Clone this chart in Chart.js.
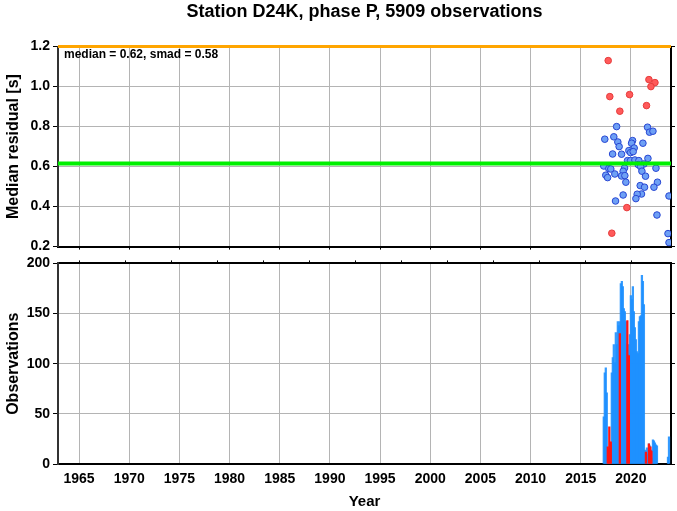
<!DOCTYPE html>
<html>
<head>
<meta charset="utf-8">
<script src="https://cdn.jsdelivr.net/npm/chart.js@4.4.1/dist/chart.umd.min.js"></script>
<style>
  body { margin: 0; background: #fff; }
  canvas { position: absolute; left: 0; }
</style>
</head>
<body>
<canvas id="resid" width="677" height="258" style="top:0px"></canvas>
<canvas id="obs" width="677" height="259" style="top:252px"></canvas>
<script>
// ---- data ----
var tickYears = [1965, 1970, 1975, 1980, 1985, 1990, 1995, 2000, 2005, 2010, 2015, 2020];
var xMin = 1962.9, xMax = 2024.0;

var medianResid = 0.615;   // green line
var limitResid = 1.2;      // orange line
var medianText = '0.62', smadText = '0.58';

// blue = accepted, red = outliers
var blueYears = [2018.58, 2021.66, 2021.86, 2022.2, 2017.4, 2018.3, 2018.7, 2018.83, 2020.17, 2020.07,
                 2021.2, 2020.33, 2019.8, 2019.97, 2020.23, 2018.18, 2019.07, 2021.7, 2019.67, 2019.97,
                 2020.4, 2020.8, 2021.3, 2020.73, 2017.3, 2019.37, 2017.8, 2018.0, 2020.97, 2022.5,
                 2019.23, 2021.1, 2018.4, 2017.5, 2019.07, 2019.4, 2017.68, 2021.46, 2022.65, 2019.5,
                 2020.93, 2021.36, 2022.3, 2021.06, 2020.63, 2019.23, 2023.8, 2020.5, 2018.47, 2022.6,
                 2023.7, 2023.8];
var blueResid = [0.80, 0.797, 0.772, 0.777, 0.737, 0.749, 0.723, 0.70, 0.73, 0.717,
                 0.717, 0.693, 0.68, 0.67, 0.675, 0.663, 0.662, 0.641, 0.63, 0.63,
                 0.633, 0.63, 0.613, 0.61, 0.603, 0.593, 0.59, 0.588, 0.60, 0.592,
                 0.577, 0.577, 0.563, 0.557, 0.553, 0.555, 0.545, 0.552, 0.522, 0.522,
                 0.505, 0.497, 0.497, 0.463, 0.462, 0.458, 0.453, 0.44, 0.428, 0.358,
                 0.265, 0.22];
var redYears = [2017.74, 2021.8, 2022.4, 2022.0, 2017.9, 2019.87, 2021.56, 2018.9, 2019.6, 2018.1];
var redResid = [1.13, 1.035, 1.02, 1.0, 0.95, 0.96, 0.905, 0.877, 0.395, 0.267];

// observations per bin
var obsYears = [2017.3, 2017.4, 2017.5, 2017.6, 2017.7, 2017.8, 2017.9, 2018.0, 2018.1, 2018.2,
                2018.3, 2018.4, 2018.5, 2018.6, 2018.7, 2018.8, 2018.9, 2019.0, 2019.1, 2019.2,
                2019.3, 2019.4, 2019.5, 2019.6, 2019.7, 2019.8, 2019.9, 2020.0, 2020.1, 2020.2,
                2020.3, 2020.4, 2020.5, 2020.6, 2020.7, 2020.8, 2020.9, 2021.0, 2021.1, 2021.2,
                2021.3, 2021.4, 2021.5, 2021.6, 2021.7, 2021.8, 2021.9, 2022.0, 2022.1, 2022.2,
                2022.3, 2022.4, 2022.5, 2022.6, 2023.7, 2023.8];
var obsCount = [47, 91, 96, 71, 8, 14, 10, 18, 91, 106,
                119, 101, 131, 119, 142, 138, 142, 180, 182, 177,
                155, 152, 142, 120, 109, 119, 129, 168, 164, 177,
                152, 136, 124, 112, 110, 142, 147, 148, 188, 182,
                159, 14, 12, 16, 10, 20, 18, 14, 6, 24,
                23, 21, 19, 18, 7, 27];
var redObsYears = [2017.7, 2017.85, 2018.0, 2018.9, 2019.65, 2019.8, 2021.5, 2021.8, 2021.95, 2022.05];
var redObsCount = [17, 37, 22, 130, 143, 108, 12, 20, 17, 13];

// ---- shared bits ----
var FONT = "'Liberation Sans', Arial, sans-serif";
var GRID = '#b4b4b4';
Chart.defaults.font.family = FONT;
Chart.defaults.color = '#000';

function pts(xs, ys) {
  return xs.map(function (x, i) { return { x: x, y: ys[i] }; });
}
function yearTicks(axis) {
  axis.ticks = tickYears.map(function (v) { return { value: v }; });
}
function fixWidth(w) { return function (axis) { axis.width = w; }; }
function fixHeight(h) { return function (axis) { axis.height = h; }; }

var rightAxis = function (min, max, step) {
  return {
    position: 'right', min: min, max: max,
    ticks: { display: false, stepSize: step },
    grid: { drawOnChartArea: false, tickLength: 4, tickColor: '#000' },
    border: { color: '#000', width: 2 },
    afterFit: fixWidth(6)
  };
};

// ---- residuals ----
var notePlugin = {
  id: 'note',
  afterDraw: function (chart) {
    var a = chart.chartArea, c = chart.ctx;
    c.save();
    c.font = 'bold 12px ' + FONT;
    c.fillStyle = '#000';
    c.textBaseline = 'middle';
    c.fillText('median = ' + medianText + ', smad = ' + smadText, a.left + 6, a.top + 8);
    c.restore();
  }
};

new Chart(document.getElementById('resid'), {
  type: 'scatter',
  data: {
    datasets: [
      { type: 'line', data: pts([xMin, xMax], [limitResid, limitResid]), borderColor: 'rgb(255,165,0)',
        borderWidth: 3, pointRadius: 0, clip: 4, order: 0 },
      { type: 'line', data: pts([xMin, xMax], [medianResid, medianResid]), borderColor: 'rgb(0,240,0)',
        borderWidth: 4, pointRadius: 0, order: 0 },
      { data: pts(redYears, redResid), backgroundColor: 'rgb(255,90,90)', borderColor: 'rgb(230,60,60)',
        borderWidth: 1, pointRadius: 3.3, order: 1 },
      { data: pts(blueYears, blueResid), backgroundColor: 'rgb(110,160,245)', borderColor: 'rgb(40,70,210)',
        borderWidth: 1, pointRadius: 3.3, order: 1 }
    ]
  },
  options: {
    responsive: false, animation: false,
    plugins: {
      legend: { display: false }, tooltip: { enabled: false },
      title: { display: true, fullSize: false, text: 'Station D24K, phase P, 5909 observations',
               font: { size: 18, weight: 'bold' }, color: '#000', padding: { top: 1, bottom: 24 } }
    },
    scales: {
      x: {
        type: 'linear', min: xMin, max: xMax,
        afterBuildTicks: yearTicks,
        ticks: { display: false },
        grid: { color: GRID, tickLength: 3, tickColor: '#000' },
        border: { color: '#000', width: 2 },
        afterFit: fixHeight(11)
      },
      y: {
        min: 0.2, max: 1.2,
        ticks: { stepSize: 0.2, padding: 3, font: { size: 14, weight: 'bold' },
                 callback: function (v) { return v.toFixed(1); } },
        grid: { color: GRID, tickLength: 5, tickColor: '#000' },
        border: { color: '#333', width: 2 },
        title: { display: true, text: 'Median residual [s]', font: { size: 16, weight: 'bold' },
                 padding: { top: 4, bottom: 0 } },
        afterFit: fixWidth(58)
      },
      y2: rightAxis(0.2, 1.2, 0.2)
    }
  },
  plugins: [notePlugin]
});

// ---- observations ----
new Chart(document.getElementById('obs'), {
  type: 'bar',
  data: {
    datasets: [
      { data: pts(redObsYears, redObsCount), backgroundColor: 'rgb(255,20,20)', barThickness: 1.6,
        grouped: false, order: 0 },
      { data: pts(obsYears, obsCount), backgroundColor: 'rgba(30,144,255,0.9)', barThickness: 1.6,
        grouped: false, order: 1 }
    ]
  },
  options: {
    responsive: false, animation: false,
    layout: { padding: { top: 8 } },
    plugins: { legend: { display: false }, tooltip: { enabled: false } },
    scales: {
      x: {
        type: 'linear', min: xMin, max: xMax, offset: false,
        afterBuildTicks: yearTicks,
        ticks: { padding: 7, font: { size: 14, weight: 'bold' }, maxRotation: 0,
                 callback: function (v) { return String(v); } },
        grid: { color: GRID, drawTicks: false, offset: false },
        border: { color: '#000', width: 2 },
        title: { display: true, text: 'Year', font: { size: 15, weight: 'bold' }, padding: { top: 4, bottom: 0 } },
        afterFit: fixHeight(47)
      },
      x2: {
        type: 'linear', position: 'top', min: xMin, max: xMax,
        afterBuildTicks: yearTicks,
        ticks: { display: false },
        grid: { drawOnChartArea: false, tickLength: 3, tickColor: '#000' },
        border: { color: '#000', width: 2 },
        afterFit: fixHeight(3)
      },
      y: {
        min: 0, max: 200,
        ticks: { stepSize: 50, padding: 3, font: { size: 14, weight: 'bold' } },
        grid: { color: GRID, tickLength: 5, tickColor: '#000' },
        border: { color: '#333', width: 2 },
        title: { display: true, text: 'Observations', font: { size: 16, weight: 'bold' },
                 padding: { top: 4, bottom: 0 } },
        afterFit: fixWidth(58)
      },
      y2: rightAxis(0, 200, 50)
    }
  }
});
</script>
</body>
</html>
